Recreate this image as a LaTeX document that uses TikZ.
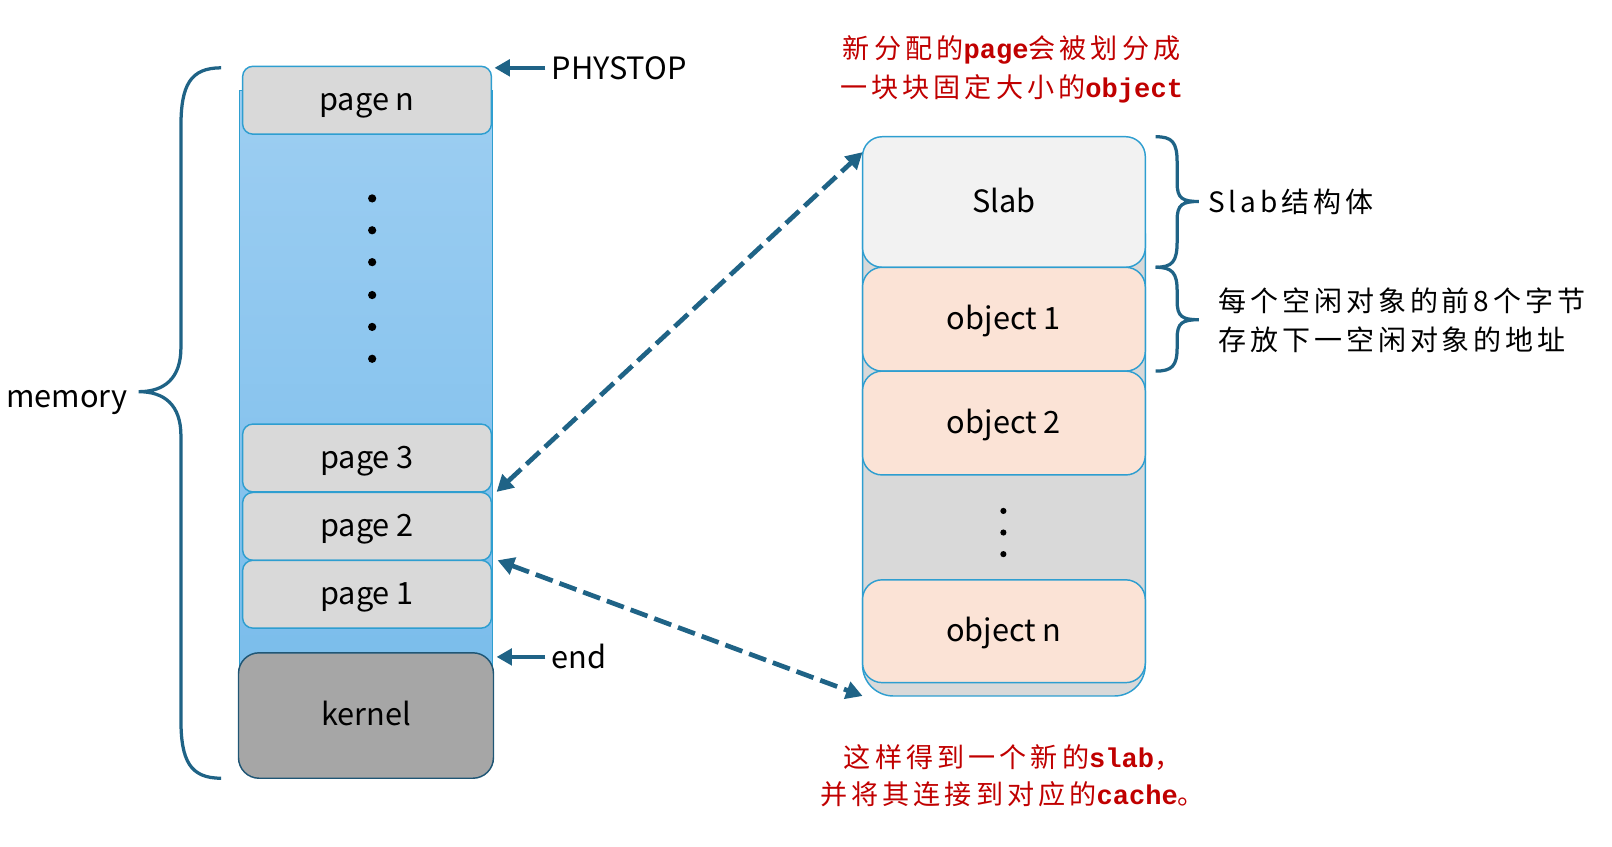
\documentclass[tikz,border=0pt]{standalone}
\usepackage{fontspec}
\setmainfont{Noto Sans CJK SC}
\newfontfamily\notecjk[LetterSpace=14]{Noto Sans CJK SC}
\newfontfamily\redcjk[LetterSpace=15]{Noto Sans CJK SC}
\newfontfamily\redmono{Liberation Mono}
\usepackage{xcolor}
\usepackage{tikz}
\usetikzlibrary{positioning, arrows.meta, shapes.geometric}

\definecolor{boxblue}{RGB}{46,158,208}
\definecolor{arrowblue}{RGB}{31,99,134}
\definecolor{pagegray}{RGB}{217,217,217}
\definecolor{kernelgray}{RGB}{166,166,166}
\definecolor{kernelline}{RGB}{31,86,117}
\definecolor{slabgray}{RGB}{242,242,242}
\definecolor{objpeach}{RGB}{251,227,214}
\definecolor{coltop}{RGB}{157,206,242}
\definecolor{colbot}{RGB}{122,189,235}
\definecolor{notered}{RGB}{192,0,0}

\newcommand{\lblfont}{\fontsize{17}{20}\selectfont}

\begin{document}
\begin{tikzpicture}[
    box/.style={rectangle, draw=boxblue, line width=0.8pt, inner sep=0pt, outer sep=0pt, font=\lblfont, text height=12pt, text depth=0.8pt},
    pagebox/.style={box, fill=pagegray, rounded corners=0.2cm, minimum width=4.84cm, minimum height=1.32cm},
    objbox/.style={box, fill=objpeach, rounded corners=0.38cm, minimum width=5.5cm, minimum height=2.02cm},
    ptr/.style={-{Triangle[length=0.3cm, width=0.32cm]}, line width=2.3pt, draw=arrowblue},
    link/.style={{Triangle[length=0.32cm, width=0.34cm]}-{Triangle[length=0.32cm, width=0.34cm]}, line width=2.6pt, draw=arrowblue, dash pattern=on 10pt off 4pt},
    bracket/.style={draw=arrowblue, line width=1.8pt},
    dotmark/.style={circle, fill=black, inner sep=0pt, minimum size=0.16cm},
    note/.style={align=left, font=\notecjk\fontsize{15.5}{21.6}\selectfont},
    rednote/.style={align=center, text=notered, font=\redcjk\fontsize{15}{22}\selectfont}
]
\useasboundingbox (0,0) rectangle (31.36,16.46);

% physical memory column
\node[box, top color=coltop, bottom color=colbot, minimum width=4.92cm, minimum height=11.4cm] (memcol) at (7.12,9.0) {};
\node[pagebox] (pagen) at (7.14,14.51) {page n};
\foreach \y [count=\i] in {12.6,11.98,11.36,10.72,10.1,9.48}
    \node[dotmark] (mdot\i) at (7.24,\y) {};
\node[pagebox] (page3) at (7.14,7.55) {page 3};
\node[pagebox] (page2) at (7.14,6.22) {page 2};
\node[pagebox] (page1) at (7.14,4.90) {page 1};
\node[box, draw=kernelline, fill=kernelgray, rounded corners=0.4cm, minimum width=4.96cm, minimum height=2.44cm] (kernel) at (7.12,2.54) {kernel};

\node[font=\lblfont, anchor=west] (physlbl) at (10.61,15.14) {PHYSTOP};
\coordinate (phystop) at (9.62,15.14);
\draw[ptr] (physlbl.west) -- (phystop);
\node[font=\lblfont, anchor=west] (endlbl) at (10.61,3.68) {end};
\coordinate (kernelend) at (9.66,3.68);
\draw[ptr] (endlbl.west) -- (kernelend);

\node[font=\lblfont, text height=12pt, text depth=0.8pt] (memlbl) at (1.3,8.72) {memory};
\draw[bracket] (4.3,15.14) .. controls (3.7,15.14) and (3.52,14.8) .. (3.52,14.0) -- (3.52,9.7)
    .. controls (3.52,9.1) and (3.2,8.84) .. (2.7,8.84)
    .. controls (3.2,8.84) and (3.52,8.58) .. (3.52,7.98) -- (3.52,2.46)
    .. controls (3.52,1.66) and (3.7,1.32) .. (4.3,1.32);

% slab
\node[box, fill=pagegray, rounded corners=0.6cm, minimum width=5.5cm, minimum height=9.6cm] (objcol) at (19.53,7.72) {};
\node[box, fill=slabgray, rounded corners=0.38cm, minimum width=5.5cm, minimum height=2.54cm] (slab) at (19.53,12.53) {Slab};
\node[objbox] (obj1) at (19.53,10.25) {object 1};
\node[objbox] (obj2) at (19.53,8.23) {object 2};
\foreach \y [count=\i] in {6.52,6.1,5.68}
    \node[dotmark, minimum size=0.12cm] (odot\i) at (19.52,\y) {};
\node[objbox, minimum height=2.0cm] (objn) at (19.53,4.18) {object n};

\draw[bracket] (22.48,13.8) .. controls (22.8,13.8) and (22.9,13.7) .. (22.9,13.3) -- (22.9,12.9)
    .. controls (22.9,12.6) and (23.0,12.54) .. (23.32,12.54)
    .. controls (23.0,12.54) and (22.9,12.48) .. (22.9,12.18) -- (22.9,11.76)
    .. controls (22.9,11.36) and (22.8,11.26) .. (22.48,11.26);
\draw[bracket] (22.48,11.26) .. controls (22.8,11.26) and (22.9,11.16) .. (22.9,10.8) -- (22.9,10.6)
    .. controls (22.9,10.3) and (23.0,10.24) .. (23.32,10.24)
    .. controls (23.0,10.24) and (22.9,10.18) .. (22.9,9.88) -- (22.9,9.7)
    .. controls (22.9,9.34) and (22.8,9.24) .. (22.48,9.24);
\node[note, anchor=west] (slabnote) at (23.38,12.54) {Slab结构体};
\node[note, anchor=west] (freenote) at (23.58,10.22) {每个空闲对象的前8个字节\\存放下一空闲对象的地址};

\draw[link] ([xshift=0.1cm]page3.south east) -- ([yshift=-0.3cm]slab.north west);
\draw[link] ([xshift=0.12cm]page2.south east) -- (objcol.south west);

\node[rednote] (topnote) at (19.68,15.11) {新分配的{\redmono\bfseries page}会被划分成\\一块块固定大小的{\redmono\bfseries object}};
\node[rednote, font=\redcjk\fontsize{15}{20}\selectfont] (botnote) at (19.7,1.37) {这样得到一个新的{\redmono\bfseries slab}，\\并将其连接到对应的{\redmono\bfseries cache}。};

\end{tikzpicture}
\end{document}
